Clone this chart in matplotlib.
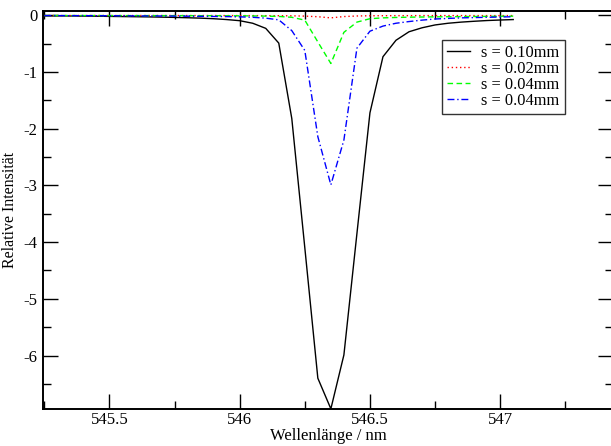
import matplotlib
matplotlib.use("Agg")
import matplotlib.pyplot as plt
import numpy as np

plt.rcParams['font.family'] = ['Liberation Serif', 'DejaVu Serif']

# Wellenlänge (nm)
wl = np.array([545.25, 545.30, 545.35, 545.40, 545.45, 545.50, 545.55, 545.60,
               545.65, 545.70, 545.75, 545.80, 545.85, 545.90, 545.95, 546.00,
               546.05, 546.10, 546.15, 546.20, 546.25, 546.30, 546.35, 546.40,
               546.45, 546.50, 546.55, 546.60, 546.65, 546.70, 546.75, 546.80,
               546.85, 546.90, 546.95, 547.00, 547.05])

s010 = [-0.010, -0.010, -0.012, -0.014, -0.016, -0.019, -0.022, -0.025,
        -0.028, -0.032, -0.037, -0.043, -0.050, -0.060, -0.075, -0.095,
        -0.140, -0.230, -0.490, -1.820, -4.100, -6.400, -6.940, -5.990,
        -3.850, -1.720, -0.730, -0.440, -0.290, -0.220, -0.170, -0.140,
        -0.120, -0.105, -0.092, -0.083, -0.075]

s002 = [-0.004, -0.004, -0.004, -0.004, -0.004, -0.004, -0.004, -0.004,
        -0.004, -0.004, -0.004, -0.004, -0.004, -0.004, -0.005, -0.005,
        -0.005, -0.006, -0.007, -0.009, -0.014, -0.025, -0.045, -0.022,
        -0.012, -0.008, -0.007, -0.006, -0.006, -0.005, -0.005, -0.005,
        -0.005, -0.005, -0.005, -0.005, -0.005]

s004a = [-0.004, -0.004, -0.004, -0.004, -0.004, -0.005, -0.005, -0.005,
         -0.005, -0.005, -0.006, -0.006, -0.007, -0.007, -0.008, -0.009,
         -0.011, -0.014, -0.020, -0.035, -0.085, -0.470, -0.850, -0.300,
         -0.120, -0.060, -0.045, -0.038, -0.033, -0.030, -0.027, -0.025,
         -0.023, -0.021, -0.019, -0.017, -0.015]

s004b = [-0.005, -0.005, -0.006, -0.006, -0.007, -0.008, -0.009, -0.010,
         -0.011, -0.012, -0.014, -0.016, -0.018, -0.020, -0.023, -0.027,
         -0.035, -0.050, -0.080, -0.270, -0.620, -2.140, -2.990, -2.200,
         -0.580, -0.280, -0.190, -0.140, -0.110, -0.085, -0.065, -0.055,
         -0.045, -0.040, -0.035, -0.030, -0.025]

labels = ['s = 0.10mm', 's = 0.02mm', 's = 0.04mm', 's = 0.04mm']

fig = plt.figure(figsize=(6.11, 4.46), dpi=100)
ax = fig.add_axes([43/611, 37/446, 570/611, 398/446])

ax.plot(wl, s010, color='black', lw=1.0, label=labels[0])
ax.plot(wl, s002, color='red', lw=1.0, ls=(0, (1, 2)), label=labels[1])
ax.plot(wl, s004a, color='#00ff00', lw=1.0, ls=(0, (4, 2.5)), label=labels[2])
ax.plot(wl, s004b, color='blue', lw=1.0, ls=(0, (5, 2, 1, 2)), label=labels[3])

ax.set_xlim(545.245, 547.433)
ax.set_ylim(-6.943, 0.076)
ax.set_xticks([545.5, 546, 546.5, 547])
ax.set_xticklabels(['545.5', '546', '546.5', '547'])
ax.set_xticks(np.arange(545.25, 547.5, 0.25), minor=True)
ax.set_yticks([0, -1, -2, -3, -4, -5, -6])
ax.set_yticklabels(['0', '-1', '-2', '-3', '-4', '-5', '-6'])
ax.set_yticks(np.arange(-6.5, 0.1, 0.5), minor=True)

ax.tick_params(which='both', direction='in', top=True, right=True,
               labelsize=12, width=1.0, pad=4)
ax.tick_params(axis='x', which='both', pad=2.5)
ax.tick_params(which='major', length=11)
ax.tick_params(which='minor', length=6)
for sp in ax.spines.values():
    sp.set_linewidth(1.4)
# the right frame line lies just outside the picture
ax.spines['right'].set_visible(False)

ax.set_xlabel('Wellenlänge / nm', fontsize=12, labelpad=0)
ax.set_ylabel('Relative Intensität', fontsize=11.5, labelpad=4)

leg = ax.legend(loc='upper left', bbox_to_anchor=(0.7, 0.927),
                borderaxespad=0, fontsize=11.8, frameon=True, fancybox=False,
                edgecolor='black', handlelength=1.4, handletextpad=0.7,
                labelspacing=0.0, borderpad=0.3)
leg.get_frame().set_linewidth(1.0)

fig.savefig('out.png', dpi=100)
